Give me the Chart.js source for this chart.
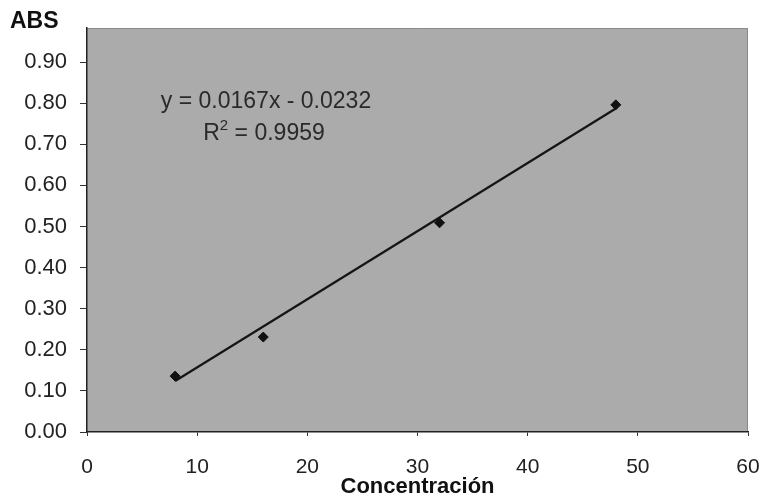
<!DOCTYPE html>
<html>
<head>
<meta charset="utf-8">
<script src="https://cdn.jsdelivr.net/npm/chart.js@4"></script>
<style>
  html, body { margin: 0; padding: 0; background: #fff; }
  #wrap { width: 764px; height: 500px; }
</style>
</head>
<body>
<div id="wrap"><canvas id="absChart"></canvas></div>
<script>
// measured points (concentration vs absorbance)
const conc = [8, 16, 32, 48];
const abs = [0.136, 0.231, 0.509, 0.796];

// trendline ends as drawn by Excel
const trendX = [8, 48];
const trendY = [0.124, 0.787];

const yTicks = [0, 0.1, 0.2, 0.3, 0.4, 0.5, 0.6, 0.7, 0.8, 0.9];
const xTicks = [0, 10, 20, 30, 40, 50, 60];

const eqLine = 'y = 0.0167x - 0.0232';
const r2Value = '0.9959';

function pairs(xs, ys) {
    return xs.map((x, i) => ({ x: x, y: ys[i] }));
}

const font = "'Liberation Sans', Arial, sans-serif";

const plotBg = {
    id: 'plotBg',
    beforeDraw(chart) {
        const a = chart.chartArea;
        const c = chart.ctx;
        c.save();
        c.fillStyle = '#ababab';
        c.fillRect(a.left, a.top, a.right - a.left, a.bottom - a.top);
        c.strokeStyle = '#8a8a8a';
        c.lineWidth = 1;
        c.beginPath();
        c.moveTo(a.left, a.top + 0.5);
        c.lineTo(a.right - 0.5, a.top + 0.5);
        c.lineTo(a.right - 0.5, a.bottom);
        c.stroke();
        c.restore();
    },
    afterDatasetsDraw(chart) {
        const a = chart.chartArea;
        const c = chart.ctx;
        c.save();
        c.fillStyle = '#2a2a2a';
        c.font = '23px ' + font;
        c.textBaseline = 'middle';
        c.textAlign = 'center';
        c.fillText(eqLine, a.left + 179, a.top + 74);
        // R² with a raised small 2
        const r = 'R', rest = ' = ' + r2Value;
        const wR = c.measureText(r).width;
        const wRest = c.measureText(rest).width;
        c.font = '15px ' + font;
        const w2 = c.measureText('2').width;
        let x = a.left + 177 - (wR + w2 + wRest) / 2;
        const y = a.top + 106;
        c.textAlign = 'left';
        c.font = '23px ' + font;
        c.fillText(r, x, y);
        c.font = '15px ' + font;
        c.fillText('2', x + wR, y - 8);
        c.font = '23px ' + font;
        c.fillText(rest, x + wR + w2, y);
        c.restore();
    }
};

new Chart(document.getElementById('absChart'), {
    type: 'scatter',
    data: {
        datasets: [{
            label: 'ABS',
            data: pairs(conc, abs),
            pointStyle: 'rectRot',
            pointRadius: 5,
            backgroundColor: '#111',
            borderColor: '#111',
            order: 1,
        }, {
            label: 'Lineal',
            data: pairs(trendX, trendY),
            showLine: true,
            borderColor: '#151515',
            borderWidth: 2.2,
            pointRadius: 0,
            order: 2,
        }]
    },
    plugins: [plotBg],
    options: {
        responsive: true,
        maintainAspectRatio: false,
        animation: false,
        layout: { padding: { left: 10, right: 16, top: 0, bottom: 0 } },
        plugins: {
            legend: { display: false },
            tooltip: { enabled: false },
            title: {
                display: true,
                text: 'ABS',
                align: 'start',
                color: '#111',
                font: { family: font, size: 23, weight: 'bold', lineHeight: 1 },
                padding: { top: 10, bottom: -5 }
            }
        },
        scales: {
            x: {
                type: 'linear',
                min: 0,
                max: 60,
                afterBuildTicks: s => { s.ticks = xTicks.map(v => ({ value: v })); },
                afterFit: s => { s.height = 68; s.paddingLeft = 0; s.paddingRight = 0; },
                border: { display: true, color: '#222', width: 1.5 },
                grid: { drawOnChartArea: false, drawTicks: true, tickLength: 4, color: '#333' },
                ticks: { color: '#222', padding: 19, font: { family: font, size: 21 } },
                title: {
                    display: true,
                    text: 'Concentración',
                    color: '#111',
                    font: { family: font, size: 22, weight: 'bold', lineHeight: 1 },
                    padding: { top: 0, bottom: 2 }
                }
            },
            y: {
                type: 'linear',
                min: 0,
                max: 0.983,
                afterBuildTicks: s => { s.ticks = yTicks.map(v => ({ value: v })); },
                afterFit: s => { s.width = 77; },
                border: { display: true, color: '#222', width: 1.5 },
                grid: { drawOnChartArea: false, drawTicks: true, tickLength: 7, color: '#333' },
                ticks: {
                    color: '#222',
                    padding: 13,
                    font: { family: font, size: 22 },
                    callback: v => v.toFixed(2)
                }
            }
        }
    }
});
</script>
</body>
</html>
